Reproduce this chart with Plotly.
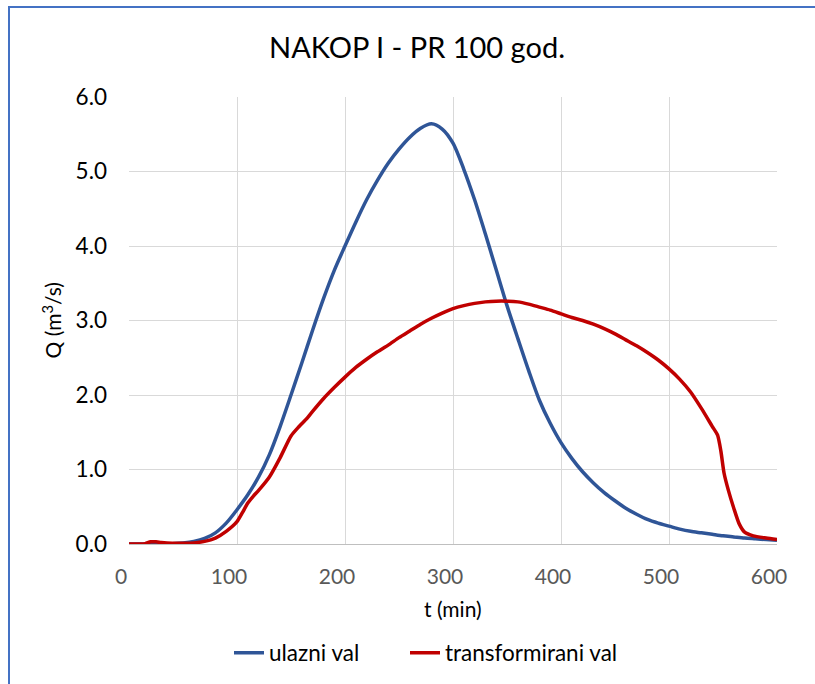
import plotly.graph_objects as go

# ---- data ----
t_in = [0, 10, 20, 30, 40, 50, 60, 70, 80, 90, 100, 110, 120, 130, 140, 150, 160, 170, 180, 190,
        200, 210, 220, 230, 240, 250, 260, 270, 280, 290, 300, 310, 320, 330, 340, 350, 360, 370,
        380, 390, 400, 410, 420, 430, 440, 450, 460, 470, 480, 490, 500, 510, 520, 530, 540, 550,
        560, 570, 580, 590, 600]
q_in = [0.0, 0.0, 0.0, 0.0, 0.005, 0.015, 0.035, 0.075, 0.15, 0.28, 0.46, 0.66, 0.9, 1.2, 1.58,
        2.0, 2.43, 2.87, 3.29, 3.67, 4.0, 4.32, 4.62, 4.88, 5.11, 5.3, 5.46, 5.58, 5.64, 5.57, 5.38,
        5.03, 4.62, 4.16, 3.68, 3.2, 2.76, 2.33, 1.93, 1.62, 1.36, 1.15, 0.97, 0.82, 0.69, 0.58, 0.48,
        0.4, 0.33, 0.28, 0.24, 0.2, 0.17, 0.15, 0.13, 0.11, 0.095, 0.08, 0.07, 0.06, 0.05]

t_out = [0, 10, 15, 20, 25, 30, 40, 50, 60, 70, 80, 90, 100, 105, 110, 115, 120, 130, 140, 150,
         157, 165, 170, 180, 190, 200, 210, 220, 230, 240, 250, 260, 270, 280, 290, 300, 310, 320,
         330, 340, 350, 360, 370, 380, 390, 400, 410, 420, 430, 440, 450, 460, 470, 480, 490, 500,
         510, 520, 530, 540, 545, 548, 551, 555, 560, 565, 570, 578, 590, 600]
q_out = [0.0, 0.0, 0.005, 0.03, 0.03, 0.02, 0.01, 0.01, 0.015, 0.035, 0.08, 0.17, 0.3, 0.42, 0.55,
         0.64, 0.72, 0.9, 1.16, 1.45, 1.57, 1.69, 1.78, 1.95, 2.1, 2.24, 2.37, 2.48, 2.58, 2.67,
         2.77, 2.86, 2.95, 3.03, 3.1, 3.16, 3.2, 3.23, 3.25, 3.26, 3.26, 3.25, 3.22, 3.18, 3.14,
         3.09, 3.04, 3.0, 2.95, 2.89, 2.82, 2.74, 2.66, 2.57, 2.47, 2.35, 2.21, 2.04, 1.82, 1.58,
         1.46, 1.25, 0.95, 0.72, 0.48, 0.27, 0.16, 0.11, 0.08, 0.06]

x_ticks = [0, 100, 200, 300, 400, 500, 600]
y_ticks = [0, 1, 2, 3, 4, 5, 6]

title_text = "NAKOP I - PR 100 god."
x_title = "t (min)"
y_title = "Q (m<sup>3</sup>/s)"
names = ["ulazni val", "transformirani val"]

FONT = "Lato"
W, H = 815, 684
ML, MR, MT, MB = 129, 38, 97, 140
PW, PH = W - ML - MR, H - MT - MB

fig = go.Figure()
fig.add_trace(go.Scatter(x=t_in, y=q_in, mode="lines", name=names[0], legend="legend",
                         line=dict(color="#2F5597", width=3.5, shape="spline", smoothing=0.8)))
fig.add_trace(go.Scatter(x=t_out, y=q_out, mode="lines", name=names[1], legend="legend2",
                         line=dict(color="#C00000", width=3.5, shape="spline", smoothing=0.6)))

def px_x(p):
    return (p - ML) / PW

def px_y(p):
    return (H - MB - p) / PH

leg_common = dict(orientation="h", xref="container", yref="container",
                  xanchor="left", y=1 - 653 / H, yanchor="middle",
                  font=dict(family=FONT, size=22.5, color="black"),
                  bgcolor="rgba(0,0,0,0)", itemwidth=30)

fig.update_layout(
    width=W, height=H,
    margin=dict(l=ML, r=MR, t=MT, b=MB),
    paper_bgcolor="white", plot_bgcolor="white",
    font=dict(family=FONT, size=21, color="black"),
    title=dict(text=title_text, font=dict(family=FONT, size=29, color="black"),
               x=417 / W, xref="container", xanchor="center",
               y=1 - 48 / H, yref="container", yanchor="middle"),
    showlegend=True,
    legend=dict(x=229 / W, **leg_common),
    legend2=dict(x=405 / W, **leg_common),
    xaxis=dict(range=[0, 600], tickvals=x_ticks, ticktext=[str(v) for v in x_ticks],
               showgrid=True, gridcolor="#D9D9D9", gridwidth=1.3,
               showline=True, linecolor="#BFBFBF", linewidth=1.3,
               zeroline=False, ticks="",
               tickfont=dict(family=FONT, size=21, color="#595959"),
               ticklabelstandoff=14, ticklabelshift=-8, fixedrange=True),
    yaxis=dict(range=[0, 6], tickvals=y_ticks, tickformat=".1f",
               showgrid=True, gridcolor="#D9D9D9", gridwidth=1.3,
               showline=False, zeroline=False, ticks="",
               tickfont=dict(family=FONT, size=22.5, color="black"),
               ticklabelstandoff=21, fixedrange=True),
    annotations=[
        dict(text=x_title, xref="paper", yref="paper", x=0.5, y=px_y(608),
             xanchor="center", yanchor="middle", showarrow=False,
             font=dict(family=FONT, size=21, color="black")),
        dict(text=y_title, xref="paper", yref="paper", x=px_x(51), y=0.5,
             xanchor="center", yanchor="middle", showarrow=False, textangle=-90,
             font=dict(family=FONT, size=21, color="black")),
    ],
    shapes=[dict(type="rect", xref="paper", yref="paper",
                 x0=px_x(9), x1=px_x(830), y0=px_y(700), y1=px_y(7),
                 line=dict(color="#4472C4", width=2), fillcolor="rgba(0,0,0,0)",
                 layer="below")],
)

fig.write_html("out.html", config={"displayModeBar": False},
               post_script="document.body.style.margin='0';document.body.style.overflow='hidden';")
